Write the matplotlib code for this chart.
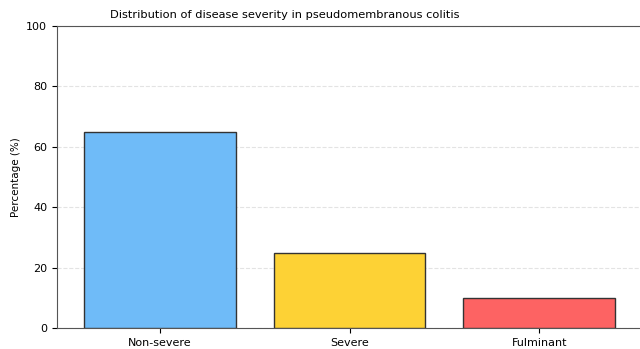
import matplotlib
matplotlib.use("Agg")
import matplotlib.pyplot as plt

categories = ["Non-severe", "Severe", "Fulminant"]
percentages = [65, 25, 10]
colors = ["#6fbbf8", "#fdd235", "#fd6363"]
yticks = [0, 20, 40, 60, 80, 100]

fig = plt.figure(figsize=(6.4, 3.49), dpi=100)
ax = fig.add_axes([57/640, 21/349, 585/640, 302/349])
ax.bar(categories, percentages, color=colors, edgecolor="#333333", linewidth=1.0, width=0.8, zorder=3)
ax.set_ylim(0, 100)
ax.set_yticks(yticks)
ax.yaxis.grid(True, linestyle="--", alpha=0.35, zorder=0)
ax.set_ylabel("Percentage (%)", fontsize=7.5)
ax.set_title("Distribution of disease severity in pseudomembranous colitis", fontsize=8.2, x=(285-57)/585)
ax.tick_params(labelsize=8)
for s in ax.spines.values():
    s.set_color("#555555")
fig.savefig("out.png", dpi=100)
